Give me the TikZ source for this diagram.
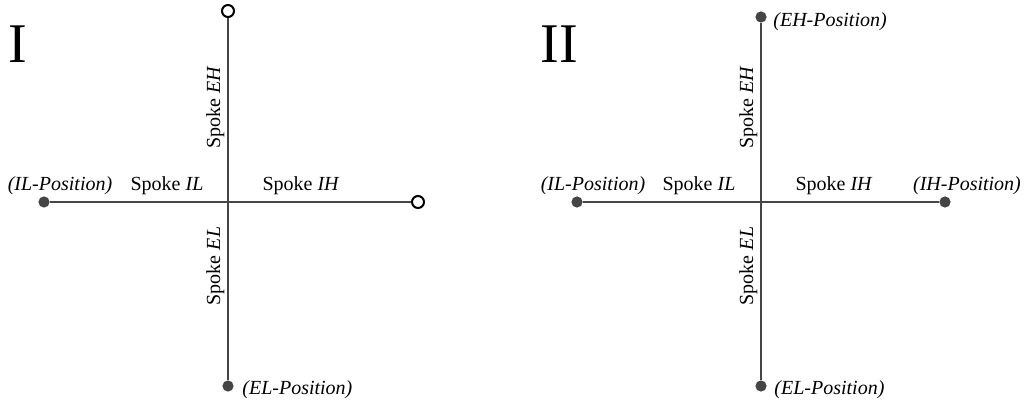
\documentclass[tikz,border=0pt]{standalone}
\usepackage{fontspec}
\setmainfont{Liberation Serif}
\usetikzlibrary{calc}

\definecolor{spokegray}{HTML}{454545}

\begin{document}
\begin{tikzpicture}[x=0.5pt,y=-0.5pt,
    spoke/.style={spokegray,line width=1pt},
    fulldot/.style={circle,fill=spokegray,inner sep=0pt,minimum size=5.6pt},
    opendot/.style={circle,draw=black,fill=white,line width=1pt,inner sep=0pt,minimum size=6pt},
    lbl/.style={font=\fontsize{10}{12}\selectfont,inner sep=0pt},
    poslbl/.style={lbl,font=\fontsize{10}{12}\selectfont\itshape},
    vlbl/.style={lbl,rotate=90,anchor=south,inner sep=1.6pt},
    panel/.style={font=\fontsize{28}{30}\selectfont,inner sep=0pt,anchor=base west}]
  \useasboundingbox (0,0) rectangle (1027,406);

  % Panel I: two open ends
  \coordinate (C1) at (228,202);
  \node[panel] (num1) at (8,63) {I};
  \node[opendot]  (EH1) at (228,11)  {};
  \node[fulldot]  (EL1) at (228,386) {};
  \node[fulldot]  (IL1) at (44,202)  {};
  \node[opendot]  (IH1) at (418,202) {};
  \draw[spoke] (C1) -- (EH1);
  \draw[spoke] (C1) -- (EL1);
  \draw[spoke] (C1) -- (IL1);
  \draw[spoke] (C1) -- (IH1);
  \node[lbl,anchor=base] (sIL1) at (167,191) {Spoke \textit{IL}};
  \node[lbl,anchor=base] (sIH1) at (301,191) {Spoke \textit{IH}};
  \node[vlbl] (sEH1) at (228,107) {Spoke \textit{EH}};
  \node[vlbl] (sEL1) at (228,266) {Spoke \textit{EL}};
  \node[poslbl,anchor=base] (pIL1) at (60,191) {(IL-Position)};
  \node[poslbl,anchor=base west] (pEL1) at (242,394) {(EL-Position)};

  % Panel II: all four ends reached
  \coordinate (C2) at (761,202);
  \node[panel] (num2) at (540,63) {II};
  \node[fulldot] (EH2) at (761,17)  {};
  \node[fulldot] (EL2) at (761,386) {};
  \node[fulldot] (IL2) at (577,202) {};
  \node[fulldot] (IH2) at (945,202) {};
  \draw[spoke] (C2) -- (EH2);
  \draw[spoke] (C2) -- (EL2);
  \draw[spoke] (C2) -- (IL2);
  \draw[spoke] (C2) -- (IH2);
  \node[lbl,anchor=base] (sIL2) at (699,191) {Spoke \textit{IL}};
  \node[lbl,anchor=base] (sIH2) at (834,191) {Spoke \textit{IH}};
  \node[vlbl] (sEH2) at (761,107) {Spoke \textit{EH}};
  \node[vlbl] (sEL2) at (761,266) {Spoke \textit{EL}};
  \node[poslbl,anchor=base] (pIL2) at (593,191) {(IL-Position)};
  \node[poslbl,anchor=base] (pIH2) at (967,191) {(IH-Position)};
  \node[poslbl,anchor=base west] (pEH2) at (773,27) {(EH-Position)};
  \node[poslbl,anchor=base west] (pEL2) at (774,394) {(EL-Position)};
\end{tikzpicture}
\end{document}
